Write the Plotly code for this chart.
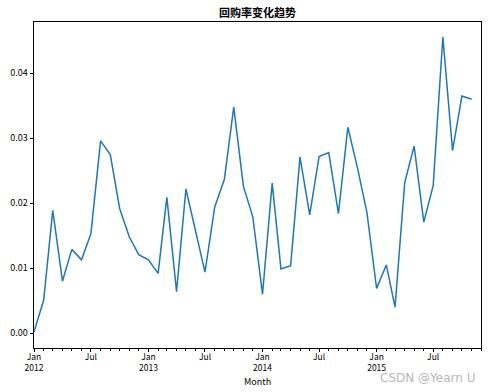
import plotly.graph_objects as go
import pandas as pd

months = pd.date_range("2012-01-01", "2015-12-01", freq="MS")
repurchase_rate = [
    0.0002, 0.0051, 0.0189, 0.0080, 0.0129, 0.0113, 0.0153, 0.0296, 0.0275, 0.0192,
    0.0148, 0.0121, 0.0113, 0.0092, 0.0209, 0.0064, 0.0222, 0.0155, 0.0094, 0.0194,
    0.0237, 0.0348, 0.0226, 0.0179, 0.0060, 0.0231, 0.0099, 0.0104, 0.0271, 0.0182,
    0.0272, 0.0278, 0.0184, 0.0317, 0.0254, 0.0186, 0.0069, 0.0105, 0.0040, 0.0232,
    0.0288, 0.0171, 0.0227, 0.0456, 0.0281, 0.0365, 0.0360, None,
]
major_ticks = ["2012-01-01", "2012-07-01", "2013-01-01", "2013-07-01",
               "2014-01-01", "2014-07-01", "2015-01-01", "2015-07-01"]
major_labels = ["Jan<br>2012", "Jul", "Jan<br>2013", "Jul",
                "Jan<br>2014", "Jul", "Jan<br>2015", "Jul"]
y_ticks = [0.00, 0.01, 0.02, 0.03, 0.04]

font_family = "Noto Sans CJK SC, DejaVu Sans, sans-serif"

fig = go.Figure()
fig.add_trace(go.Scatter(
    x=months, y=repurchase_rate, mode="lines",
    line=dict(color="#1f77b4", width=1.5),
    connectgaps=False, showlegend=False,
))

fig.update_layout(
    width=491, height=392,
    margin=dict(l=34, r=10, t=22, b=44, autoexpand=False),
    paper_bgcolor="white", plot_bgcolor="white",
    font=dict(family=font_family, size=9, color="black"),
    title=dict(text="<b>回购率变化趋势</b>", x=(34 + 481) / 2 / 491, xanchor="center",
               xref="container", y=1 - 13 / 392, yref="container", yanchor="middle",
               font=dict(size=11, family=font_family)),
    showlegend=False,
)

fig.update_xaxes(
    type="date",
    range=[months[0], months[-1]],
    tickmode="array", tickvals=major_ticks, ticktext=major_labels,
    ticks="outside", ticklen=3.5, tickwidth=0.8, tickcolor="black",
    ticklabelstandoff=-3,
    minor=dict(ticks="outside", ticklen=2, tickwidth=0.6, tickcolor="black",
               dtick="M1", showgrid=False),
    showline=True, linecolor="black", linewidth=0.8, mirror=True,
    showgrid=False, zeroline=False, automargin=False,
    tickfont=dict(size=8.5),
)
fig.update_yaxes(
    range=[-0.00228, 0.0479],
    tickmode="array", tickvals=y_ticks, tickformat=".2f",
    ticks="outside", ticklen=3.5, tickwidth=0.8, tickcolor="black",
    showline=True, linecolor="black", linewidth=0.8, mirror=True,
    showgrid=False, zeroline=False, automargin=False,
    tickfont=dict(size=9),
)

fig.add_annotation(
    text="Month", xref="paper", yref="paper",
    x=0.5, y=-(381 - 348) / 326, xanchor="center", yanchor="middle",
    showarrow=False, font=dict(size=9, family=font_family, color="black"),
)
fig.add_annotation(
    text="CSDN @Yearn U", xref="paper", yref="paper",
    x=(477 - 34) / 447, y=-(378 - 348) / 326, xanchor="right", yanchor="middle",
    showarrow=False, font=dict(size=12, color="#b8b8b8", family="DejaVu Sans, sans-serif"),
)

fig.write_html("out.html", config={"displayModeBar": False})

with open("out.html", "r", encoding="utf-8") as f:
    html = f.read()
html = html.replace("<head>", "<head><style>html,body{margin:0;padding:0;overflow:hidden;}</style>", 1)
with open("out.html", "w", encoding="utf-8") as f:
    f.write(html)
